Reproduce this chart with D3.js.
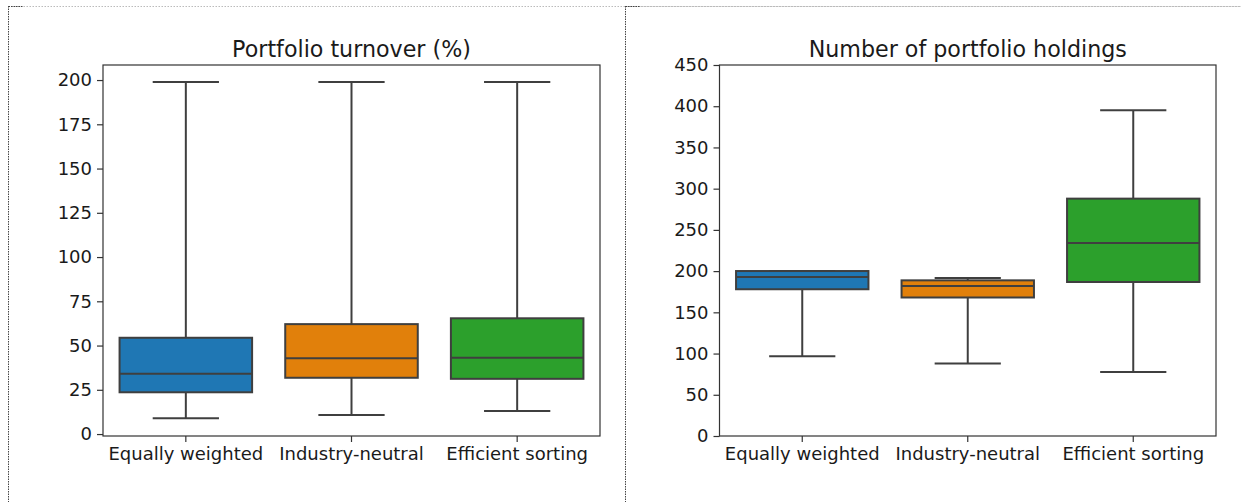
<!DOCTYPE html>
<html>
<head>
<meta charset="utf-8">
<script src="https://cdn.jsdelivr.net/npm/d3@7"></script>
<style>
  html, body { margin: 0; padding: 0; background: #fff; }
  svg { display: block; }
  text { font-family: "DejaVu Sans", sans-serif; fill: #1a1a1a; }
</style>
</head>
<body>
<svg id="chart" width="1241" height="502"></svg>
<script>
// ---- data ----
const categories = ["Equally weighted", "Industry-neutral", "Efficient sorting"];
const colors = ["#1f77b4", "#e1800b", "#2ca02c"];

// Portfolio turnover (%)
const turnoverLow    = [8.9, 10.7, 13.0];
const turnoverQ1     = [23.6, 31.8, 31.2];
const turnoverMedian = [34.1, 42.8, 43.1];
const turnoverQ3     = [54.4, 62.1, 65.4];
const turnoverHigh   = [198.9, 198.9, 198.9];
const turnoverTicks  = [0, 25, 50, 75, 100, 125, 150, 175, 200];

// Number of portfolio holdings
const holdingsLow    = [96.7, 87.9, 77.7];
const holdingsQ1     = [178, 168, 186.8];
const holdingsMedian = [192.9, 182, 234];
const holdingsQ3     = [200.1, 188.8, 287.9];
const holdingsHigh   = [200.1, 191.6, 395];
const holdingsTicks  = [0, 50, 100, 150, 200, 250, 300, 350, 400, 450];

const svg = d3.select("#chart");

// dotted frames (image borders)
function frame(x0) {
  svg.append("line").attr("x1", x0).attr("x2", 1241).attr("y1", 6.5).attr("y2", 6.5)
    .attr("stroke", "#bbb").attr("stroke-width", 1).attr("stroke-dasharray", "1.5,1.5");
  svg.append("line").attr("x1", x0).attr("x2", x0 + 14).attr("y1", 6.5).attr("y2", 6.5)
    .attr("stroke", "#444").attr("stroke-width", 1).attr("stroke-dasharray", "1.5,1");
  svg.append("line").attr("x1", x0).attr("x2", x0).attr("y1", 6).attr("y2", 502)
    .attr("stroke", "#444").attr("stroke-width", 1).attr("stroke-dasharray", "1.5,1");
}
frame(8.5);
frame(625.5);

function panel(opts) {
  const { left, right, top, bottom, domain, ticks, title,
          low, q1, med, q3, high } = opts;
  const g = svg.append("g");
  const x = d3.scaleBand().domain(categories).range([left, right]).padding(0);
  const y = d3.scaleLinear().domain(domain).range([bottom, top]);
  const bw = x.bandwidth() * 0.8;
  const cw = bw * 0.5;
  const lc = "#3f3f3f";

  // y axis
  const yAxis = d3.axisLeft(y).tickValues(ticks).tickSize(6).tickPadding(5);
  const ya = g.append("g").attr("transform", `translate(${left},0)`).call(yAxis);
  ya.select(".domain").remove();
  ya.selectAll(".tick line").attr("stroke", "#333").attr("stroke-width", 1.2);
  ya.selectAll(".tick text").attr("font-size", 18).attr("fill", "#1a1a1a")
    .attr("font-family", "DejaVu Sans, sans-serif");

  // x axis
  const xAxis = d3.axisBottom(x).tickSize(6).tickPadding(5);
  const xa = g.append("g").attr("transform", `translate(0,${bottom})`).call(xAxis);
  xa.select(".domain").remove();
  xa.selectAll(".tick line").attr("stroke", "#333").attr("stroke-width", 1.2);
  xa.selectAll(".tick text").attr("font-size", 18).attr("fill", "#1a1a1a")
    .attr("font-family", "DejaVu Sans, sans-serif");

  const idx = categories.map((c, i) => i);
  const cx = i => x(categories[i]) + x.bandwidth() / 2;

  // whiskers
  g.selectAll(".wu").data(idx).enter().append("line")
    .attr("x1", cx).attr("x2", cx).attr("y1", i => y(q3[i])).attr("y2", i => y(high[i]))
    .attr("stroke", lc).attr("stroke-width", 2);
  g.selectAll(".wl").data(idx).enter().append("line")
    .attr("x1", cx).attr("x2", cx).attr("y1", i => y(q1[i])).attr("y2", i => y(low[i]))
    .attr("stroke", lc).attr("stroke-width", 2);
  // caps
  g.selectAll(".cu").data(idx).enter().append("line")
    .attr("x1", i => cx(i) - cw / 2).attr("x2", i => cx(i) + cw / 2)
    .attr("y1", i => y(high[i])).attr("y2", i => y(high[i]))
    .attr("stroke", lc).attr("stroke-width", 2);
  g.selectAll(".cl").data(idx).enter().append("line")
    .attr("x1", i => cx(i) - cw / 2).attr("x2", i => cx(i) + cw / 2)
    .attr("y1", i => y(low[i])).attr("y2", i => y(low[i]))
    .attr("stroke", lc).attr("stroke-width", 2);
  // boxes
  g.selectAll(".box").data(idx).enter().append("rect")
    .attr("x", i => cx(i) - bw / 2).attr("width", bw)
    .attr("y", i => y(q3[i])).attr("height", i => y(q1[i]) - y(q3[i]))
    .attr("fill", i => colors[i]).attr("stroke", lc).attr("stroke-width", 2);
  // medians
  g.selectAll(".med").data(idx).enter().append("line")
    .attr("x1", i => cx(i) - bw / 2).attr("x2", i => cx(i) + bw / 2)
    .attr("y1", i => y(med[i])).attr("y2", i => y(med[i]))
    .attr("stroke", lc).attr("stroke-width", 2);

  // frame
  g.append("rect").attr("x", left).attr("y", top)
    .attr("width", right - left).attr("height", bottom - top)
    .attr("fill", "none").attr("stroke", "#333").attr("stroke-width", 1.2);

  // title
  g.append("text").attr("x", (left + right) / 2).attr("y", 57)
    .attr("text-anchor", "middle").attr("font-size", 22.2).text(title);
}

panel({
  left: 103, right: 600, top: 65, bottom: 436,
  domain: [-1.1, 208.5], ticks: turnoverTicks, title: "Portfolio turnover (%)",
  low: turnoverLow, q1: turnoverQ1, med: turnoverMedian, q3: turnoverQ3, high: turnoverHigh
});
panel({
  left: 719.5, right: 1216, top: 65, bottom: 436,
  domain: [0, 450], ticks: holdingsTicks, title: "Number of portfolio holdings",
  low: holdingsLow, q1: holdingsQ1, med: holdingsMedian, q3: holdingsQ3, high: holdingsHigh
});
</script>
</body>
</html>
